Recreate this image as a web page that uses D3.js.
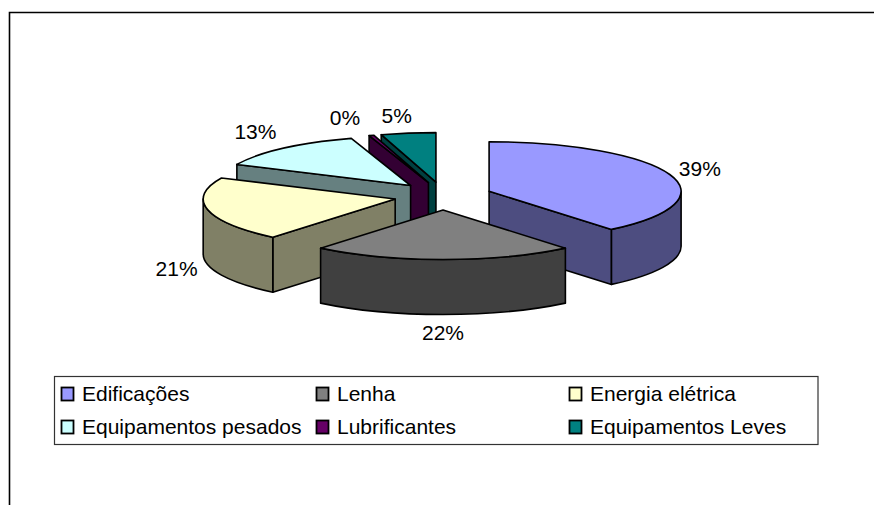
<!DOCTYPE html>
<html><head><meta charset="utf-8">
<script src="https://cdn.jsdelivr.net/npm/d3@7"></script>
<style>
body{margin:0;background:#fff}
svg{display:block}
text{font-family:Arial,"Liberation Sans",sans-serif;fill:#000}
</style>
</head><body>
<svg id="chart" width="874" height="505"></svg>
<script>
// ---- data ----
const categories = ["Edificações","Lenha","Energia elétrica","Equipamentos pesados","Lubrificantes","Equipamentos Leves"];
const values = [39.0, 22.0, 21.0, 13.0, 0.4, 4.6];
const topColors = ["#9999FF","#808080","#FFFFCC","#CCFFFF","#660066","#008080"];
const sideColors = ["#4D4D80","#404040","#808066","#668080","#330033","#004040"];

// ---- layout ----
const W = 874, H = 505;
const cx = 443, cy = 196, rx = 192, ry = 49.5, depth = 55, exX = 49, exY = 14;
const labelOutX = 32, labelOutY = 18;
const labelNudge = {"Equipamentos pesados":[-7,-3], "Lubrificantes":[-17,-1], "Equipamentos Leves":[-7,0]};
const fontSize = 21;

const svg = d3.select("#chart");
const total = d3.sum(values);
const fmt = d3.format(".0%");
const data = categories.map((c,i)=>({name:c, v:values[i], top:topColors[i], side:sideColors[i], label:fmt(values[i]/total)}));

// outer frame
svg.append("path").attr("d", `M9.5,${H} L9.5,12.5 L${W},12.5`)
  .attr("fill","none").attr("stroke","#000").attr("stroke-width",1.6);

const pie = d3.pie().sort(null).value(d=>d.v);
const arcs = pie(data);

arcs.forEach(a=>{
  const m = (a.startAngle + a.endAngle)/2;
  a.mid = m;
  a.ox = cx + exX*Math.sin(m);
  a.oy = cy - exY*Math.cos(m);
});
function rim(a, t, dy=0){ return [a.ox + rx*Math.sin(t), a.oy - ry*Math.cos(t) + dy]; }
function pt(p){ return p[0].toFixed(2)+","+p[1].toFixed(2); }

const order = arcs.slice().sort((p,q)=>(-Math.cos(p.mid)) - (-Math.cos(q.mid)));
const g = svg.append("g").attr("stroke","#000").attr("stroke-width",1.6).attr("stroke-linejoin","round");

order.forEach(a=>{
  const a0 = a.startAngle, a1 = a.endAngle;
  const sg = g.append("g");
  const apex = [a.ox, a.oy], apexD = [a.ox, a.oy+depth];
  if (Math.sin(a0) < -1e-6) {
    const r0 = rim(a,a0), r0d = rim(a,a0,depth);
    sg.append("path").attr("fill",a.data.side)
      .attr("d",`M${pt(apex)} L${pt(r0)} L${pt(r0d)} L${pt(apexD)} Z`);
  }
  if (Math.sin(a1) > 1e-6) {
    const r1 = rim(a,a1), r1d = rim(a,a1,depth);
    sg.append("path").attr("fill",a.data.side)
      .attr("d",`M${pt(apex)} L${pt(r1)} L${pt(r1d)} L${pt(apexD)} Z`);
  }
  const b0 = Math.max(a0, Math.PI/2), b1 = Math.min(a1, 3*Math.PI/2);
  if (b1 > b0) {
    sg.append("path").attr("fill",a.data.side)
      .attr("d",`M${pt(rim(a,b0))} A${rx},${ry} 0 0 1 ${pt(rim(a,b1))} L${pt(rim(a,b1,depth))} A${rx},${ry} 0 0 0 ${pt(rim(a,b0,depth))} Z`);
  }
  const large = (a1-a0) > Math.PI ? 1 : 0;
  sg.append("path").attr("fill",a.data.top)
    .attr("d",`M${pt(apex)} L${pt(rim(a,a0))} A${rx},${ry} 0 ${large} 1 ${pt(rim(a,a1))} Z`);
});

// data labels
arcs.forEach(a=>{
  const m = a.mid;
  let x = a.ox + (rx+labelOutX)*Math.sin(m);
  let y = a.oy - (ry+labelOutY)*Math.cos(m) + (Math.cos(m) < 0 ? depth : 0);
  const n = labelNudge[a.data.name] || [0,0];
  svg.append("text").attr("x",x+n[0]).attr("y",y+n[1]).attr("dy","0.36em")
    .attr("text-anchor","middle").attr("font-size",fontSize).text(a.data.label);
});

// legend
const lg = svg.append("g");
lg.append("rect").attr("x",54.5).attr("y",376.5).attr("width",763.5).attr("height",68)
  .attr("fill","#fff").attr("stroke","#333").attr("stroke-width",1.2);
const colX = [61, 316, 569], rowY = [387, 420];
data.forEach((d,i)=>{
  const x = colX[i%3], y = rowY[Math.floor(i/3)];
  lg.append("rect").attr("x",x+0.5).attr("y",y+0.5).attr("width",12).attr("height",13)
    .attr("fill",d.top).attr("stroke","#000").attr("stroke-width",1.8);
  lg.append("text").attr("x",x+21).attr("y",y+14).attr("font-size",fontSize).text(d.name);
});
</script>
</body></html>
